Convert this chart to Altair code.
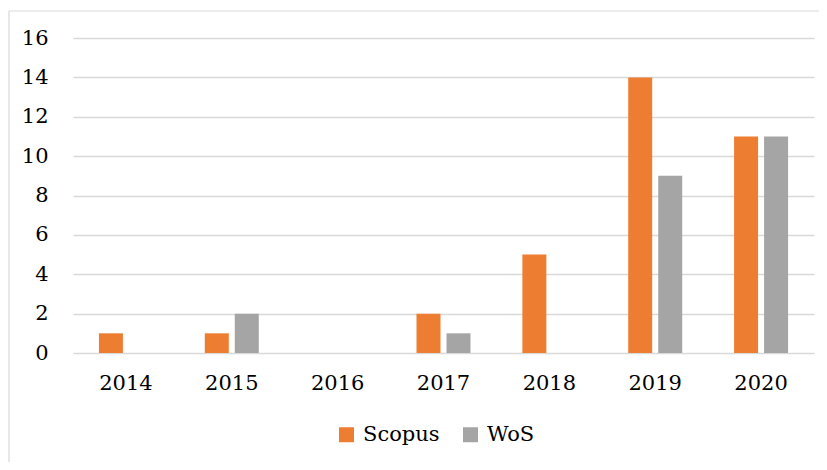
import altair as alt
import pandas as pd

years = ["2014", "2015", "2016", "2017", "2018", "2019", "2020"]
scopus = [1, 1, 0, 2, 5, 14, 11]
wos = [0, 2, 0, 1, 0, 9, 11]
series = ["Scopus", "WoS"]
colors = ["#ED7D31", "#A5A5A5"]

rows = []
for y, s, w in zip(years, scopus, wos):
    rows.append({"year": y, "series": "Scopus", "value": s})
    rows.append({"year": y, "series": "WoS", "value": w})
df = pd.DataFrame(rows)

FONT = "DejaVu Serif"
FS = 21

bars = alt.Chart(df).mark_bar().encode(
    x=alt.X("year:N", sort=years,
            scale=alt.Scale(paddingInner=0.49, paddingOuter=0.245),
            axis=alt.Axis(title=None, labelAngle=0, ticks=False, domain=False,
                          labelPadding=19, labelFontSize=FS, labelFont=FONT,
                          labelColor="#000000", grid=False)),
    xOffset=alt.XOffset("series:N", sort=series,
                        scale=alt.Scale(paddingInner=0.2, paddingOuter=0)),
    y=alt.Y("value:Q", scale=alt.Scale(domain=[0, 16]),
            axis=alt.Axis(title=None, values=list(range(0, 17, 2)), ticks=False,
                          domain=False, labelPadding=25, labelFontSize=FS,
                          labelFont=FONT, labelColor="#000000",
                          gridColor="#D9D9D9", gridWidth=1.3)),
    color=alt.Color("series:N", sort=series,
                    scale=alt.Scale(domain=series, range=colors),
                    legend=alt.Legend(title=None, orient="none", direction="horizontal",
                                      legendX=263, legendY=386,
                                      symbolType="square", symbolSize=225,
                                      symbolStrokeWidth=0, labelFontSize=FS,
                                      labelFont=FONT, labelColor="#000000",
                                      labelOffset=6, columnPadding=20)),
)

one = pd.DataFrame({"a": [0]})
border_left = alt.Chart(one).mark_rule(stroke="#D9D9D9", strokeWidth=1.2, clip=False).encode(
    x=alt.value(-64), y=alt.value(-27), y2=alt.value(600)
)
border_top = alt.Chart(one).mark_rule(stroke="#D9D9D9", strokeWidth=1.2, clip=False).encode(
    x=alt.value(-64), x2=alt.value(900), y=alt.value(-27)
)

chart = alt.layer(bars, border_left, border_top).properties(
    width=741, height=315,
    background="white",
    autosize=alt.AutoSizeParams(type="none"),
    padding={"left": 65, "top": 30, "right": 5, "bottom": 109},
).configure_view(
    stroke="transparent", strokeWidth=0
).configure_axis(
    domain=False, domainOpacity=0, ticks=False
).configure_axisX(grid=False)

chart.save("out.html", embed_options={"renderer": "svg", "actions": False})
